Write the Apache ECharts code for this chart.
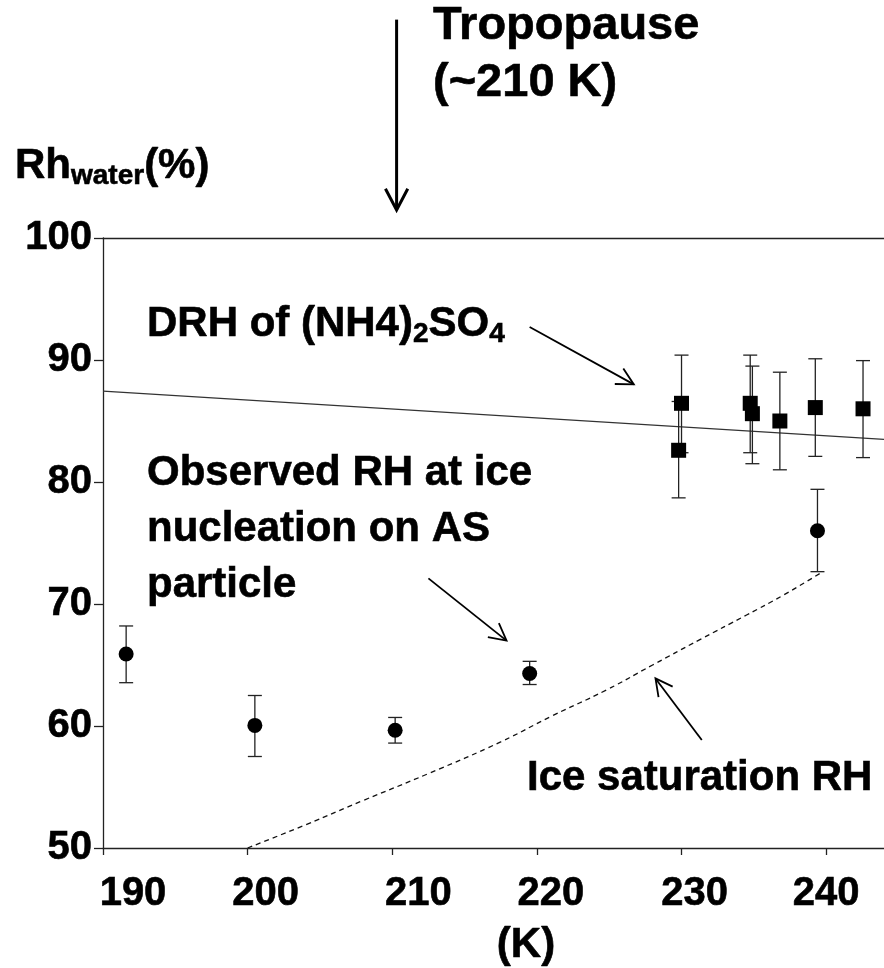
<!DOCTYPE html>
<html>
<head>
<meta charset="utf-8">
<script src="https://cdn.jsdelivr.net/npm/echarts@6/dist/echarts.min.js"></script>
<style>
  html, body { margin: 0; padding: 0; background: #fff; }
  #chart { width: 884px; height: 968px; }
</style>
</head>
<body>
<div id="chart"></div>
<script>
// temperature (K) / RH water (%)
const sqT  = [230.0, 229.8, 234.75, 234.9, 236.8, 239.25, 242.55];
const sqRH = [86.45, 82.6, 86.45, 85.6, 85.0, 86.1, 86.0];
const sqLo = [82.4, 78.7, 82.4, 81.5, 81.0, 82.1, 82.0];
const sqHi = [90.4, 86.6, 90.4, 89.5, 89.0, 90.1, 89.95];

const circT  = [191.6, 200.5, 210.2, 219.5, 239.4];
const circRH = [65.9, 60.05, 59.65, 64.3, 76.0];
const circLo = [63.55, 57.5, 58.6, 63.4, 72.65];
const circHi = [68.2, 62.5, 60.7, 65.3, 79.4];

// DRH of (NH4)2SO4
const drhT  = [190, 244];
const drhRH = [87.45, 83.5];

// ice saturation RH
const iceT  = [200, 204, 208, 212.5, 217.5, 221, 224.8, 228, 231.3, 234.5, 237, 239.7];
const iceRH = [50, 51.9, 53.9, 56.1, 58.7, 60.8, 62.95, 65.0, 67.1, 69.1, 70.7, 72.6];

const xTicks = [190, 200, 210, 220, 230, 240];

const FONT = '"Liberation Sans", Arial, sans-serif';
const chart = echarts.init(document.getElementById('chart'));

function zip(a, b) { return a.map((v, i) => [v, b[i]]); }
function zip3(a, b, c) { return a.map((v, i) => [v, b[i], c[i]]); }

// error bars with caps
function errBar(params, api) {
  const x = api.value(0);
  const p1 = api.coord([x, api.value(1)]);
  const p2 = api.coord([x, api.value(2)]);
  const w = 7;
  const st = { stroke: '#222', lineWidth: 1.3 };
  return {
    type: 'group',
    children: [
      { type: 'line', shape: { x1: p1[0], y1: p1[1], x2: p2[0], y2: p2[1] }, style: st },
      { type: 'line', shape: { x1: p1[0] - w, y1: p1[1], x2: p1[0] + w, y2: p1[1] }, style: st },
      { type: 'line', shape: { x1: p2[0] - w, y1: p2[1], x2: p2[0] + w, y2: p2[1] }, style: st }
    ]
  };
}

// bold text in the original is a bit heavier
const HEAVY = { textBorderColor: '#000', textBorderWidth: 0.6 };

// x labels are not centred on ticks in the original
const labelRich = {};
const pads = { 190: 60, 200: 36, 210: 52, 220: 28, 230: 26, 240: 0 };
xTicks.forEach(t => {
  labelRich['t' + t] = Object.assign({ fontSize: 40, fontWeight: 'bold', fontFamily: FONT, color: '#000', padding: [0, 0, 0, pads[t]] }, HEAVY);
});

chart.setOption({
  animation: false,
  backgroundColor: '#fff',
  grid: { left: 103, right: 0, top: 238, bottom: 120 },
  xAxis: [{
    type: 'value', min: 190, max: 244, interval: 10,
    axisLine: { lineStyle: { color: '#222', width: 1.3 } },
    axisTick: { length: 7, lineStyle: { color: '#222', width: 1.3 } },
    splitLine: { show: false },
    axisLabel: {
      margin: 26,
      showMaxLabel: false,
      formatter: v => (xTicks.indexOf(v) >= 0 ? '{t' + v + '|' + v + '}' : ''),
      rich: labelRich
    }
  }, {
    type: 'value', position: 'top', min: 190, max: 244,
    axisLine: { show: true, lineStyle: { color: '#222', width: 1.3 } },
    axisTick: { show: false }, axisLabel: { show: false }, splitLine: { show: false }
  }],
  yAxis: {
    type: 'value', min: 50, max: 100, interval: 10,
    axisLine: { show: true, lineStyle: { color: '#222', width: 1.3 } },
    axisTick: { show: true, length: 9, lineStyle: { color: '#222', width: 1.3 } },
    splitLine: { show: false },
    axisLabel: Object.assign({ margin: 11, fontSize: 40, fontWeight: 'bold', fontFamily: FONT, color: '#000' }, HEAVY)
  },
  series: [
    {
      type: 'line', data: zip(drhT, drhRH), symbol: 'none',
      lineStyle: { color: '#333', width: 1.2 }, z: 2
    },
    {
      type: 'line', data: zip(iceT, iceRH), symbol: 'none', smooth: true,
      lineStyle: { color: '#111', width: 1.3, type: [5, 4] }, z: 2
    },
    { type: 'custom', data: zip3(sqT, sqLo, sqHi), renderItem: errBar, z: 3 },
    { type: 'custom', data: zip3(circT, circLo, circHi), renderItem: errBar, z: 3 },
    {
      type: 'scatter', data: zip(sqT, sqRH), symbol: 'rect', symbolSize: 15,
      itemStyle: { color: '#000', opacity: 1 }, z: 4
    },
    {
      type: 'scatter', data: zip(circT, circRH), symbol: 'circle', symbolSize: 15,
      itemStyle: { color: '#000', opacity: 1 }, z: 4
    }
  ]
});

// annotation arrows, given in data coordinates
function arrow(from, to, width, head) {
  const a = chart.convertToPixel({ gridIndex: 0 }, from);
  const b = chart.convertToPixel({ gridIndex: 0 }, to);
  const ang = Math.atan2(b[1] - a[1], b[0] - a[0]);
  const spread = Math.PI / 6.5;
  const l = [b[0] - head * Math.cos(ang - spread), b[1] - head * Math.sin(ang - spread)];
  const r = [b[0] - head * Math.cos(ang + spread), b[1] - head * Math.sin(ang + spread)];
  const st = { stroke: '#000', lineWidth: width, fill: null };
  return [
    { type: 'line', shape: { x1: a[0], y1: a[1], x2: b[0], y2: b[1] }, style: st },
    { type: 'polyline', shape: { points: [l, b, r] }, style: st }
  ];
}

const txt = (x, y, text, size, extra) => ({
  type: 'text', x: x, y: y,
  style: Object.assign({ text: text, font: 'bold ' + size + 'px ' + FONT, fill: '#000', stroke: '#000', lineWidth: 0.6 }, extra || {})
});

// rich parts for graphic text (zrender style names)
const richM = { fontSize: 42, fontWeight: 'bold', fontFamily: FONT, fill: '#000', stroke: '#000', lineWidth: 0.6, lineHeight: 48 };
const richS = { fontSize: 28, fontWeight: 'bold', fontFamily: FONT, fill: '#000', stroke: '#000', lineWidth: 0.6, lineHeight: 18, verticalAlign: 'bottom' };

const graphics = [].concat(
  arrow([210.3, 117.9], [210.3, 102.3], 3, 24),
  arrow([219.5, 92.7], [226.7, 88.0], 1.8, 19),
  arrow([212.5, 72.1], [217.9, 67.0], 1.8, 19),
  arrow([231.4, 58.85], [228.2, 63.9], 1.8, 19),
  [
    txt(433, -2, 'Tropopause\n(~210 K)', 47, { lineHeight: 57, verticalAlign: 'top' }),
    {
      type: 'text', x: 15, y: 166,
      style: { text: '{m|Rh}{s|water}{m|(%)}', verticalAlign: 'middle', rich: { m: richM, s: richS } }
    },
    {
      type: 'text', x: 147, y: 324,
      style: { text: '{m|DRH of (NH4)}{s|2}{m|SO}{s|4}', verticalAlign: 'middle', rich: { m: richM, s: richS } }
    },
    txt(147, 445, 'Observed RH at ice\nnucleation on AS\nparticle', 42, { lineHeight: 56, verticalAlign: 'top' }),
    txt(527, 778, 'Ice saturation RH', 42, { verticalAlign: 'middle' }),
    txt(526, 945, '(K)', 42, { verticalAlign: 'middle', align: 'center' })
  ]
);

chart.setOption({ graphic: graphics });
</script>
</body>
</html>
